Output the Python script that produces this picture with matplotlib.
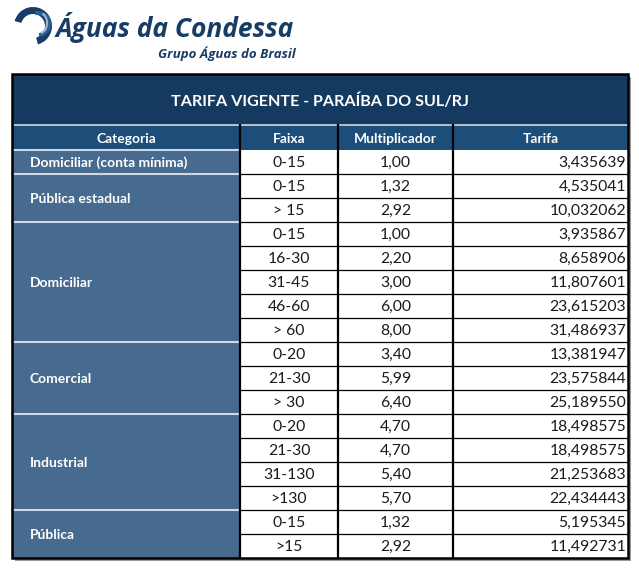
import matplotlib.pyplot as plt
from matplotlib.patches import Rectangle, Wedge, Arc

plt.rcParams['font.family'] = ['Lato', 'DejaVu Sans']

titulo = 'TARIFA VIGENTE - PARAÍBA DO SUL/RJ'
cabecalho = ['Categoria', 'Faixa', 'Multiplicador', 'Tarifa']

categorias = ['Domiciliar (conta mínima)', 'Pública estadual', 'Domiciliar',
              'Comercial', 'Industrial', 'Pública']
linhas_por_categoria = [1, 2, 5, 3, 4, 2]

faixas = ['0-15', '0-15', '> 15', '0-15', '16-30', '31-45', '46-60', '> 60',
          '0-20', '21-30', '> 30', '0-20', '21-30', '31-130', '>130', '0-15', '>15']
multiplicadores = ['1,00', '1,32', '2,92', '1,00', '2,20', '3,00', '6,00', '8,00',
                   '3,40', '5,99', '6,40', '4,70', '4,70', '5,40', '5,70', '1,32', '2,92']
tarifas = ['3,435639', '4,535041', '10,032062', '3,935867', '8,658906', '11,807601',
           '23,615203', '31,486937', '13,381947', '23,575844', '25,189550', '18,498575',
           '18,498575', '21,253683', '22,434443', '5,195345', '11,492731']

# cores
azul_titulo = '#143a5f'
azul_cab = '#1d4e7a'
azul_cat = '#476a8f'
linha_clara = '#cdd8e4'
azul_logo = '#173d66'

fig = plt.figure(figsize=(6.39, 5.69), dpi=100)
ax = fig.add_axes([0, 0, 1, 1])
ax.set_xlim(0, 639)
ax.set_ylim(569, 0)
ax.axis('off')

# logo
ax.add_patch(Wedge((33, 26), 19, 195, 75, width=7, color=azul_logo, lw=0))
ax.add_patch(Wedge((38, 24), 13, 255, 85, width=4, color='#2d5f91', lw=0))
ax.add_patch(Arc((40, 23), 14, 20, theta1=285, theta2=85, color='#9db9d6', lw=1.5))
ax.text(56, 37, 'Águas da Condessa', fontsize=19, fontweight='bold', style='italic',
        color=azul_logo, va='baseline', family='Open Sans')
ax.text(296, 58, 'Grupo Águas do Brasil', fontsize=9.5, fontweight='bold', style='italic',
        color=azul_logo, va='baseline', ha='right', family='Open Sans')

xs = [12, 240, 338, 453, 628]
y_tit, y_cab, y0, h = 74, 125, 150, 24
n = len(faixas)
y_fim = y0 + n * h

# sombra
ax.add_patch(Rectangle((xs[0] + 3, y_tit + 3), xs[-1] - xs[0], y_fim - y_tit,
                       color='#9a9a9a', lw=0, zorder=0))
ax.add_patch(Rectangle((xs[0], y_tit), xs[-1] - xs[0], y_fim - y_tit,
                       color='white', lw=0, zorder=1))

# titulo
ax.add_patch(Rectangle((xs[0], y_tit), xs[-1] - xs[0], y_cab - y_tit,
                       color=azul_titulo, lw=0, zorder=2))
ax.text((xs[0] + xs[-1]) / 2, (y_tit + y_cab) / 2 + 1.5, titulo, color='white',
        fontsize=11.6, fontweight='bold', ha='center', va='center', zorder=5)

# cabecalho
ax.add_patch(Rectangle((xs[0], y_cab), xs[-1] - xs[0], y0 - y_cab,
                       color=azul_cab, lw=0, zorder=2))
ax.plot([xs[0], xs[-1]], [y_cab, y_cab], color=linha_clara, lw=1.2, zorder=3)
for i, c in enumerate(cabecalho):
    ax.text((xs[i] + xs[i + 1]) / 2, (y_cab + y0) / 2 + 1, c, color='white',
            fontsize=10, fontweight='bold', ha='center', va='center', zorder=5)

# categorias
y = y0
for cat, k in zip(categorias, linhas_por_categoria):
    ax.add_patch(Rectangle((xs[0], y), xs[1] - xs[0], k * h,
                           color=azul_cat, lw=0, zorder=2))
    ax.plot([xs[0], xs[1]], [y, y], color=linha_clara, lw=1.5, zorder=3)
    ax.text(xs[0] + 18, y + k * h / 2 + 1, cat, color='white', fontsize=10,
            fontweight='bold', ha='left', va='center', zorder=5)
    y += k * h

# linhas de dados
for i in range(n):
    yc = y0 + i * h + h / 2 + 1
    ax.text((xs[1] + xs[2]) / 2, yc, faixas[i], fontsize=11.3, ha='center', va='center',
            color='#1a1a1a', zorder=5)
    ax.text((xs[2] + xs[3]) / 2, yc, multiplicadores[i], fontsize=11.3, ha='center',
            va='center', color='#1a1a1a', zorder=5)
    ax.text(xs[4] - 2, yc, tarifas[i], fontsize=11.3, ha='right', va='center',
            color='#1a1a1a', zorder=5)
    if i > 0:
        ax.plot([xs[1], xs[4]], [y0 + i * h, y0 + i * h], color='black', lw=0.9, zorder=3)

# verticais
for x in xs[1:4]:
    ax.plot([x, x], [y_cab, y_fim], color='black', lw=1.6, zorder=4)

# borda externa
ax.add_patch(Rectangle((xs[0], y_tit), xs[-1] - xs[0], y_fim - y_tit,
                       fill=False, ec='black', lw=1.8, zorder=6))

fig.savefig('out.png', dpi=100)
